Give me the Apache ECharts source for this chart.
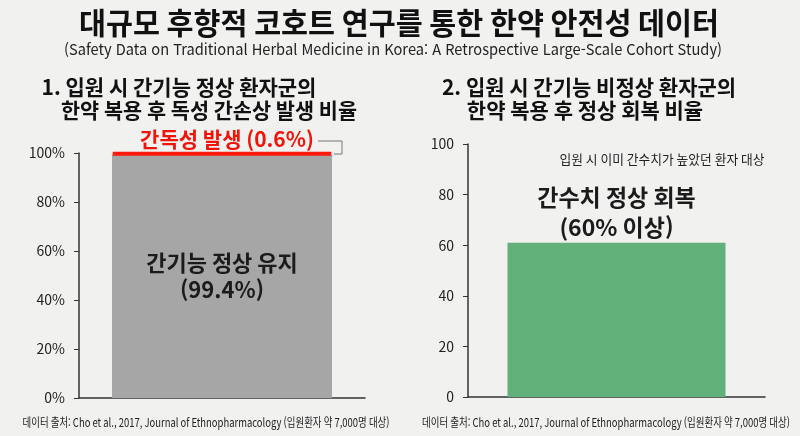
<!DOCTYPE html>
<html lang="ko">
<head>
	<meta charset="UTF-8">
	<title>한약 안전성 데이터</title>
	<style>
		html, body { margin: 0; padding: 0; background: #f1f1f0; }
		#main { width: 800px; height: 436px; }
	</style>
</head>
<body>
	<div id="main"></div>
	<script src="https://cdn.jsdelivr.net/npm/echarts@6/dist/echarts.min.js"></script>
	<script>
		// 데이터
		var leftCats = ['간기능 정상 환자군'];
		var leftNormal = [99.4];   // 간기능 정상 유지
		var leftToxic = [0.6];     // 간독성 발생
		var rightCats = ['간기능 비정상 환자군'];
		var rightRecover = [61];   // 간수치 정상 회복

		var FONT = '"Noto Sans CJK KR", "Noto Sans", sans-serif';

		// 글자 폭을 재서 가로로 눌러 맞추기 (원본이 좁은 글꼴이라서)
		var cv = document.createElement('canvas').getContext('2d');
		function squeeze(text, size, weight, target) {
			cv.font = weight + ' ' + size + 'px ' + FONT;
			var w = cv.measureText(text).width;
			return Math.min(1, target / w);
		}
		function txt(text, cx, cy, size, weight, color, target) {
			return {
				type: 'text',
				x: cx, y: cy,
				scaleX: squeeze(text, size, weight, target),
				style: {
					text: text,
					fill: color,
					font: weight + ' ' + size + 'px ' + FONT,
					textAlign: 'center',
					textVerticalAlign: 'middle'
				},
				silent: true
			};
		}

		var myChart = echarts.init(document.getElementById('main'));

		var axisLine = { show: true, lineStyle: { color: '#333', width: 1.5 } };

		var option = {
			backgroundColor: '#f1f1f0',
			animation: false,
			textStyle: { fontFamily: FONT },
			grid: [
				{ left: 79, width: 286, top: 153, bottom: 38 },
				{ left: 468, width: 297, top: 144, bottom: 39 }
			],
			xAxis: [
				{
					type: 'category', gridIndex: 0, data: leftCats,
					axisLine: axisLine, axisTick: { show: false }, axisLabel: { show: false }
				},
				{
					type: 'category', gridIndex: 1, data: rightCats,
					axisLine: axisLine, axisTick: { show: false }, axisLabel: { show: false }
				}
			],
			yAxis: [
				{
					type: 'value', gridIndex: 0, min: 0, max: 100, interval: 20,
					axisLine: axisLine,
					axisTick: { show: true, length: 5, lineStyle: { color: '#333' } },
					axisLabel: { formatter: '{value}%', color: '#222', fontSize: 14, margin: 14 },
					splitLine: { show: false }
				},
				{
					type: 'value', gridIndex: 1, min: 0, max: 100, interval: 20,
					axisLine: axisLine,
					axisTick: { show: true, length: 5, lineStyle: { color: '#333' } },
					axisLabel: { color: '#222', fontSize: 14, margin: 14 },
					splitLine: { show: false }
				}
			],
			series: [
				{
					name: '간기능 정상 유지',
					type: 'bar',
					xAxisIndex: 0, yAxisIndex: 0,
					stack: 'left',
					barWidth: 220,
					data: leftNormal,
					itemStyle: { color: '#a6a6a6' },
					label: {
						show: true,
						position: 'inside',
						formatter: function (p) { return '간기능 정상 유지\n(' + p.value + '%)'; },
						color: '#1b1b1b',
						fontSize: 22,
						fontWeight: 'bold',
						lineHeight: 27
					}
				},
				{
					name: '간독성 발생',
					type: 'bar',
					xAxisIndex: 0, yAxisIndex: 0,
					stack: 'left',
					barWidth: 220,
					data: leftToxic,
					itemStyle: { color: '#ff1a0e', borderColor: '#ff1a0e', borderWidth: 4 },
					label: {
						show: true,
						position: 'top',
						distance: 2,
						offset: [5, 0],
						formatter: function (p) { return '간독성 발생 (' + p.value + '%)'; },
						color: '#f0140a',
						fontSize: 21,
						fontWeight: 'bold'
					}
				},
				{
					name: '간수치 정상 회복',
					type: 'bar',
					xAxisIndex: 1, yAxisIndex: 1,
					barWidth: 218,
					data: rightRecover,
					itemStyle: { color: '#62b17a' },
					label: {
						show: true,
						position: 'top',
						distance: 0,
						formatter: '간수치 정상 회복\n(60% 이상)',
						color: '#1b1b1b',
						fontSize: 23,
						fontWeight: 'bold',
						lineHeight: 30
					}
				}
			]
		};

		myChart.setOption(option);

		// 빨간 라벨에서 막대 위로 내려가는 꺾은 선
		var topPt = myChart.convertToPixel({ xAxisIndex: 0, yAxisIndex: 0 }, [0, 100]);
		var barRight = topPt[0] + 110;
		var labelY = topPt[1] - 12;

		myChart.setOption({
			graphic: [
				txt('대규모 후향적 코호트 연구를 통한 한약 안전성 데이터', 399, 23, 30, 'bold', '#111', 640),
				txt('(Safety Data on Traditional Herbal Medicine in Korea: A Retrospective Large-Scale Cohort Study)', 393, 49, 15, 'normal', '#222', 648),
				txt('1. 입원 시 간기능 정상 환자군의', 179, 87, 21, 'bold', '#111', 276),
				txt('한약 복용 후 독성 간손상 발생 비율', 209, 110, 21, 'bold', '#111', 296),
				txt('2. 입원 시 간기능 비정상 환자군의', 589, 87, 21, 'bold', '#111', 296),
				txt('한약 복용 후 정상 회복 비율', 585, 110, 21, 'bold', '#111', 237),
				txt('입원 시 이미 간수치가 높았던 환자 대상', 662, 159, 13, 'normal', '#222', 205),
				txt('데이터 출처: Cho et al., 2017, Journal of Ethnopharmacology (입원환자 약 7,000명 대상)', 206, 422, 12, 'normal', '#222', 367),
				txt('데이터 출처: Cho et al., 2017, Journal of Ethnopharmacology (입원환자 약 7,000명 대상)', 606, 422, 12, 'normal', '#222', 368),
				{
					type: 'polyline',
					silent: true,
					z: 10,
					shape: {
						points: [
							[barRight - 14, labelY],
							[barRight + 10, labelY],
							[barRight + 10, topPt[1] + 1],
							[barRight + 2, topPt[1] + 1]
						]
					},
					style: { stroke: '#777', lineWidth: 1, fill: null }
				}
			]
		});
	</script>
</body>
</html>
